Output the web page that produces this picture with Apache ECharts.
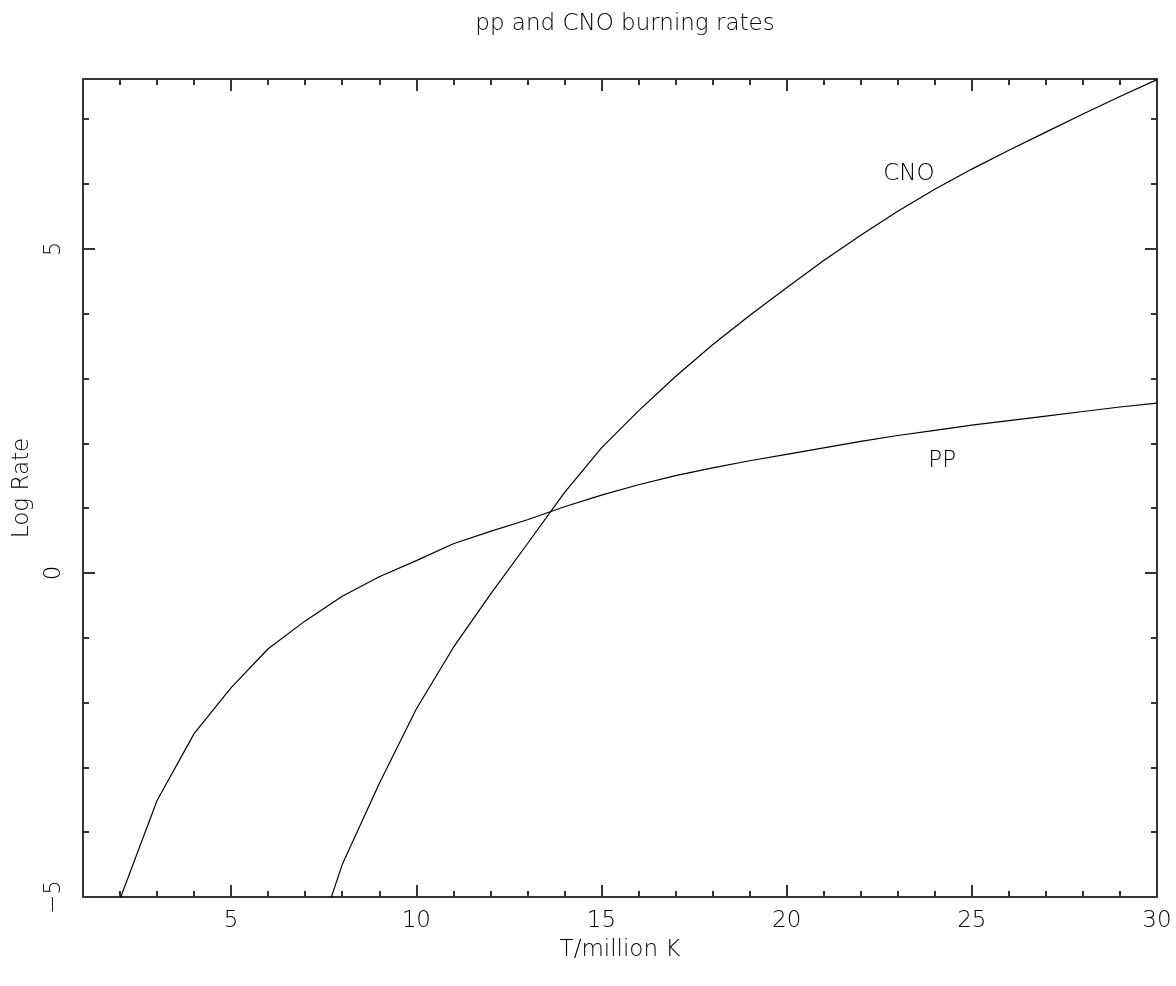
<!DOCTYPE html>
<html>
<head>
<meta charset="utf-8">
<script src="https://cdn.jsdelivr.net/npm/echarts@6/dist/echarts.min.js"></script>
<style>
  html, body { margin: 0; padding: 0; background: #fff; }
  #chart { width: 1176px; height: 986px; }
</style>
</head>
<body>
<div id="chart"></div>
<script>
// ---- data ----
const ppT   = [2, 3, 4, 5, 6, 7, 8, 9, 10, 11, 12, 13, 14, 15, 16, 17, 18, 19, 20, 21, 22, 23, 24, 25, 26, 27, 28, 29, 30];
const ppLog = [-5.03, -3.51, -2.48, -1.77, -1.17, -0.74, -0.36, -0.06, 0.19, 0.45, 0.64, 0.82, 1.02, 1.2, 1.36, 1.5, 1.62, 1.73, 1.83, 1.93, 2.03, 2.12, 2.2, 2.28, 2.35, 2.42, 2.49, 2.56, 2.62];
const cnoT   = [7, 8, 9, 10, 11, 12, 13, 14, 15, 16, 17, 18, 19, 20, 21, 22, 23, 24, 25, 26, 27, 28, 29, 30];
const cnoLog = [-6.2, -4.5, -3.25, -2.1, -1.15, -0.33, 0.45, 1.24, 1.93, 2.5, 3.03, 3.52, 3.97, 4.4, 4.82, 5.21, 5.58, 5.92, 6.23, 6.52, 6.8, 7.08, 7.35, 7.61];
const xMajorTicks = [5, 10, 15, 20, 25, 30];
const xMinorTicks = [2, 3, 4, 6, 7, 8, 9, 11, 12, 13, 14, 16, 17, 18, 19, 21, 22, 23, 24, 26, 27, 28, 29];
const yMajorTicks = [-5, 0, 5];
const yMinorTicks = [-4, -3, -2, -1, 1, 2, 3, 4, 6, 7];
const titleText = 'pp and CNO burning rates';
const xName = 'T/million K';
const yName = 'Log Rate';
const seriesNames = ['PP', 'CNO'];

const FONT = '"DejaVu Sans", "Noto Sans", sans-serif';
const TXT = { fontFamily: FONT, fontSize: 23, fontWeight: 200, color: '#000' };
const LINE_COL = '#333';

function xAxisDef(pos, ticks, len, showLine, showLabels) {
  return {
    type: 'value', position: pos, min: 1, max: 30,
    axisLine: { show: showLine, onZero: false, lineStyle: { color: LINE_COL, width: 2 } },
    axisTick: { show: true, inside: true, length: len, customValues: ticks, lineStyle: { color: LINE_COL, width: 2 } },
    axisLabel: showLabels ? Object.assign({ show: true, customValues: ticks, margin: 13 }, TXT) : { show: false },
    splitLine: { show: false },
    name: showLabels ? xName : '',
    nameLocation: 'middle', nameGap: 42, nameTextStyle: TXT
  };
}
function yAxisDef(pos, ticks, len, showLine, showLabels) {
  return {
    type: 'value', position: pos, min: -5, max: 7.62,
    axisLine: { show: showLine, onZero: false, lineStyle: { color: LINE_COL, width: 2 } },
    axisTick: { show: true, inside: true, length: len, customValues: ticks, lineStyle: { color: LINE_COL, width: 2 } },
    axisLabel: showLabels ? Object.assign({ show: true, customValues: ticks, rotate: 90, margin: 17,
      formatter: v => String(v).replace('-', '\u2212') }, TXT) : { show: false },
    splitLine: { show: false },
    name: showLabels ? yName : '',
    nameLocation: 'middle', nameGap: 49, nameTextStyle: TXT
  };
}

const chart = echarts.init(document.getElementById('chart'), null, { renderer: 'canvas' });
chart.setOption({
  animation: false,
  backgroundColor: '#fff',
  title: {
    text: titleText, left: 620, top: 8, textAlign: 'center',
    textStyle: Object.assign({}, TXT)
  },
  grid: { left: 83, right: 19, top: 79, bottom: 89, containLabel: false },
  xAxis: [
    xAxisDef('bottom', xMajorTicks, 12, true, true),
    xAxisDef('bottom', xMinorTicks, 6, false, false),
    xAxisDef('top', xMajorTicks, 12, true, false),
    xAxisDef('top', xMinorTicks, 6, false, false)
  ],
  yAxis: [
    yAxisDef('left', yMajorTicks, 12, true, true),
    yAxisDef('left', yMinorTicks, 6, false, false),
    yAxisDef('right', yMajorTicks, 12, true, false),
    yAxisDef('right', yMinorTicks, 6, false, false)
  ],
  series: [
    {
      name: seriesNames[0], type: 'line', xAxisIndex: 0, yAxisIndex: 0,
      data: ppT.map((t, i) => [t, ppLog[i]]),
      showSymbol: false, clip: true,
      lineStyle: { color: '#000', width: 1.2 },
      markPoint: {
        symbol: 'circle', symbolSize: 0, silent: true,
        label: Object.assign({ show: true, position: 'inside', formatter: seriesNames[0] }, TXT),
        data: [{ coord: [24.2, 1.73] }]
      }
    },
    {
      name: seriesNames[1], type: 'line', xAxisIndex: 0, yAxisIndex: 0,
      data: cnoT.map((t, i) => [t, cnoLog[i]]),
      showSymbol: false, clip: true,
      lineStyle: { color: '#000', width: 1.2 },
      markPoint: {
        symbol: 'circle', symbolSize: 0, silent: true,
        label: Object.assign({ show: true, position: 'inside', formatter: seriesNames[1] }, TXT),
        data: [{ coord: [23.3, 6.16] }]
      }
    }
  ]
});
</script>
</body>
</html>
